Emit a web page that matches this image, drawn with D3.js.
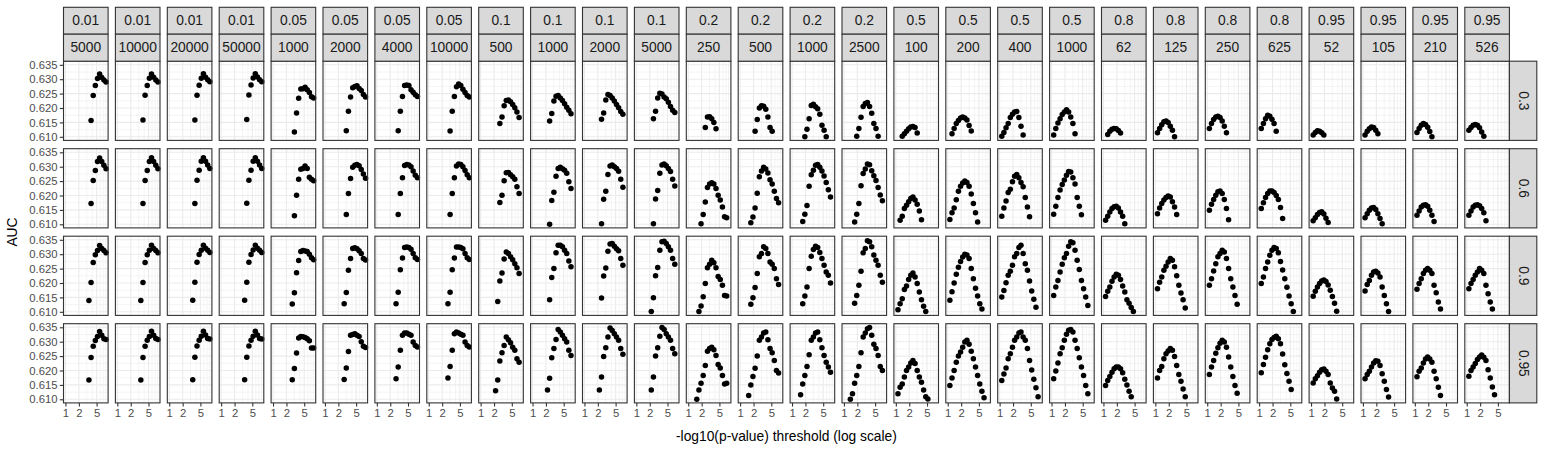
<!DOCTYPE html>
<html><head><meta charset="utf-8">
<script src="https://cdn.jsdelivr.net/npm/d3@7"></script>
<style>body{margin:0;background:#fff}svg{display:block}text{font-family:"Liberation Sans",Arial,Helvetica,sans-serif}</style>
</head><body><svg id="chart" width="1544" height="449"></svg>
<script>
// ---- data ----
const thresholds = [1.000,1.117,1.247,1.392,1.555,1.736,1.938,2.164,2.417,2.698,3.013,3.365,3.757,4.195,4.684,5.230,5.840,6.521,7.282,8.131];
const colFraction = ["0.01","0.01","0.01","0.01","0.05","0.05","0.05","0.05","0.1","0.1","0.1","0.1","0.2","0.2","0.2","0.2","0.5","0.5","0.5","0.5","0.8","0.8","0.8","0.8","0.95","0.95","0.95","0.95"];
const colSize = ["5000","10000","20000","50000","1000","2000","4000","10000","500","1000","2000","5000","250","500","1000","2500","100","200","400","1000","62","125","250","625","52","105","210","526"];
const rowLabels = ["0.3","0.6","0.9","0.95"];
const yTicks = [0.610,0.615,0.620,0.625,0.630,0.635];
const yMinor = [0.6125,0.6175,0.6225,0.6275,0.6325];
const xTicks = [1,2,5];
const xMinor = [3,4,6,7,8,9];
// each entry: [first threshold index, AUC values...]
const aucRow03 = [
[12,.6157,.6243,.6278,.6302,.6318,.6306,.6297,.6290],
[12,.6158,.6244,.6278,.6303,.6318,.6307,.6297,.6290],
[12,.6158,.6244,.6279,.6303,.6319,.6307,.6298,.6291],
[12,.6160,.6245,.6280,.6304,.6319,.6308,.6298,.6291],
[10,.6117,.6183,.6234,.6266,.6267,.6272,.6263,.6254,.6239,.6235],
[10,.6121,.6189,.6238,.6270,.6275,.6277,.6268,.6261,.6247,.6238],
[10,.6121,.6189,.6240,.6278,.6280,.6278,.6263,.6255,.6246,.6240],
[10,.6120,.6189,.6240,.6274,.6283,.6278,.6265,.6254,.6243,.6238],
[9,.6146,.6169,.6208,.6226,.6228,.6222,.6212,.6201,.6186,.6167],
[8,.6155,.6181,.6224,.6241,.6243,.6235,.6226,.6215,.6203,.6192,.6180],
[8,.6161,.6183,.6228,.6247,.6243,.6235,.6224,.6212,.6201,.6188,.6178],
[8,.6163,.6189,.6235,.6251,.6249,.6238,.6232,.6220,.6205,.6192,.6184],
[8,.6132,.6169,.6170,.6163,.6150,.6128],
[7,.6119,.6160,.6200,.6208,.6206,.6196,.6169,.6132,.6119],
[6,.6100,.6126,.6163,.6209,.6213,.6204,.6197,.6178,.6140,.6123,.6100],
[6,.6102,.6129,.6168,.6205,.6216,.6219,.6205,.6182,.6146,.6129,.6102],
[3,.6102,.6111,.6119,.6128,.6134,.6136,.6132,.6113],
[2,.6111,.6129,.6146,.6157,.6165,.6169,.6165,.6158,.6139,.6120],
[1,.6102,.6115,.6131,.6146,.6167,.6178,.6186,.6188,.6167,.6137,.6106],
[1,.6106,.6129,.6148,.6163,.6177,.6186,.6194,.6186,.6169,.6146,.6111],
[2,.6108,.6119,.6126,.6129,.6128,.6122,.6113],
[1,.6114,.6129,.6142,.6152,.6155,.6150,.6137,.6123,.6100],
[1,.6129,.6146,.6160,.6169,.6171,.6167,.6155,.6137,.6114],
[1,.6129,.6146,.6163,.6175,.6171,.6161,.6146,.6119],
[1,.6106,.6115,.6121,.6119,.6114,.6106],
[1,.6106,.6119,.6128,.6134,.6132,.6123,.6111],
[1,.6115,.6129,.6140,.6146,.6143,.6133,.6118,.6100],
[1,.6123,.6132,.6140,.6143,.6140,.6131,.6117,.6102]];
const aucRow06 = [
[12,.6172,.6252,.6287,.6318,.6330,.6318,.6305,.6293],
[12,.6172,.6252,.6287,.6318,.6331,.6318,.6305,.6293],
[12,.6172,.6253,.6288,.6319,.6331,.6319,.6306,.6294],
[12,.6173,.6253,.6288,.6319,.6331,.6319,.6306,.6294],
[10,.6130,.6201,.6256,.6291,.6294,.6302,.6294,.6263,.6256,.6251],
[10,.6134,.6207,.6259,.6298,.6305,.6308,.6303,.6290,.6275,.6260],
[10,.6134,.6207,.6262,.6304,.6308,.6306,.6300,.6285,.6270,.6262],
[10,.6134,.6207,.6262,.6302,.6309,.6308,.6300,.6287,.6272,.6262],
[9,.6176,.6201,.6251,.6279,.6280,.6272,.6265,.6256,.6230,.6207],
[8,.6100,.6183,.6211,.6267,.6294,.6298,.6293,.6288,.6277,.6248,.6224],
[8,.6102,.6187,.6215,.6273,.6302,.6306,.6300,.6294,.6284,.6256,.6229],
[8,.6102,.6188,.6217,.6277,.6306,.6309,.6303,.6294,.6283,.6256,.6233],
[6,.6102,.6134,.6177,.6228,.6240,.6244,.6240,.6224,.6201,.6184,.6160,.6126,.6123],
[5,.6105,.6125,.6157,.6208,.6265,.6285,.6298,.6292,.6278,.6255,.6240,.6215,.6190,.6175],
[5,.6110,.6135,.6165,.6232,.6272,.6288,.6305,.6308,.6298,.6285,.6268,.6245,.6220,.6195],
[5,.6108,.6135,.6172,.6234,.6276,.6292,.6309,.6307,.6286,.6269,.6252,.6228,.6202,.6182],
[2,.6114,.6128,.6155,.6166,.6178,.6190,.6195,.6184,.6170,.6146,.6116],
[1,.6117,.6140,.6157,.6185,.6215,.6232,.6243,.6250,.6245,.6232,.6205,.6172,.6140,.6108],
[1,.6128,.6157,.6181,.6210,.6222,.6248,.6267,.6273,.6262,.6245,.6230,.6193,.6160,.6126],
[1,.6135,.6163,.6193,.6219,.6238,.6254,.6270,.6283,.6282,.6262,.6240,.6193,.6163,.6133],
[1,.6114,.6128,.6143,.6155,.6161,.6163,.6157,.6143,.6128,.6102],
[1,.6137,.6157,.6172,.6184,.6193,.6198,.6195,.6178,.6160,.6134],
[1,.6149,.6170,.6186,.6201,.6213,.6216,.6207,.6186,.6155,.6116],
[1,.6155,.6175,.6193,.6207,.6216,.6216,.6210,.6200,.6186,.6158,.6120],
[1,.6112,.6123,.6134,.6141,.6144,.6136,.6121,.6106],
[1,.6123,.6137,.6149,.6157,.6158,.6151,.6137,.6120,.6102],
[1,.6131,.6146,.6160,.6166,.6168,.6163,.6149,.6131,.6110],
[1,.6131,.6146,.6160,.6166,.6168,.6164,.6155,.6140,.6112]];
const aucRow09 = [
[11,.6139,.6202,.6271,.6298,.6313,.6330,.6320,.6313,.6305],
[11,.6139,.6202,.6271,.6298,.6314,.6331,.6320,.6313,.6305],
[11,.6140,.6203,.6272,.6299,.6314,.6331,.6321,.6314,.6306],
[11,.6140,.6203,.6272,.6299,.6315,.6331,.6321,.6314,.6306],
[9,.6127,.6166,.6236,.6278,.6309,.6313,.6311,.6309,.6300,.6288,.6281],
[9,.6128,.6167,.6244,.6285,.6320,.6322,.6319,.6312,.6302,.6285,.6280],
[9,.6128,.6168,.6246,.6287,.6323,.6325,.6323,.6317,.6302,.6288,.6282],
[9,.6128,.6168,.6246,.6287,.6325,.6325,.6323,.6319,.6302,.6288,.6282],
[8,.6136,.6207,.6235,.6283,.6308,.6302,.6291,.6281,.6267,.6253,.6233],
[8,.6142,.6219,.6250,.6305,.6331,.6331,.6326,.6314,.6302,.6276,.6256],
[8,.6148,.6224,.6252,.6310,.6335,.6337,.6328,.6319,.6312,.6285,.6262],
[7,.6101,.6149,.6225,.6254,.6314,.6343,.6345,.6337,.6326,.6314,.6285,.6265],
[5,.6101,.6120,.6152,.6198,.6253,.6265,.6279,.6270,.6253,.6223,.6212,.6192,.6157,.6155],
[5,.6126,.6149,.6184,.6233,.6291,.6302,.6326,.6320,.6302,.6273,.6265,.6250,.6215,.6195],
[5,.6128,.6155,.6186,.6250,.6293,.6316,.6328,.6323,.6306,.6285,.6262,.6238,.6227,.6200],
[5,.6130,.6157,.6192,.6241,.6305,.6320,.6347,.6343,.6326,.6297,.6279,.6262,.6227,.6203],
[1,.6107,.6128,.6145,.6177,.6190,.6212,.6227,.6235,.6221,.6198,.6169,.6142,.6119,.6101],
[1,.6140,.6170,.6200,.6230,.6255,.6275,.6290,.6300,.6297,.6285,.6250,.6215,.6182,.6155,.6128,.6110],
[1,.6151,.6174,.6201,.6227,.6241,.6262,.6291,.6302,.6323,.6331,.6302,.6267,.6244,.6207,.6172,.6144,.6116],
[1,.6157,.6186,.6209,.6238,.6265,.6288,.6302,.6328,.6343,.6340,.6314,.6279,.6247,.6209,.6180,.6151,.6122],
[1,.6153,.6171,.6186,.6206,.6221,.6230,.6227,.6212,.6190,.6169,.6142,.6130,.6115,.6101],
[1,.6180,.6203,.6221,.6244,.6258,.6273,.6285,.6279,.6256,.6225,.6192,.6165,.6142,.6113],
[1,.6192,.6215,.6242,.6267,.6291,.6302,.6314,.6308,.6285,.6250,.6215,.6186,.6157,.6126],
[1,.6198,.6221,.6250,.6273,.6296,.6314,.6323,.6320,.6305,.6275,.6245,.6215,.6185,.6155,.6128,.6101],
[1,.6154,.6171,.6186,.6198,.6207,.6210,.6205,.6193,.6175,.6153,.6130,.6102],
[1,.6172,.6195,.6209,.6227,.6238,.6241,.6235,.6221,.6186,.6157,.6128,.6101],
[1,.6178,.6198,.6215,.6233,.6244,.6250,.6244,.6233,.6192,.6166,.6134,.6110],
[1,.6180,.6198,.6212,.6227,.6238,.6250,.6244,.6233,.6192,.6163,.6134,.6110]];
const aucRow095 = [
[11,.6167,.6245,.6284,.6304,.6318,.6335,.6322,.6310,.6308],
[11,.6167,.6245,.6284,.6305,.6318,.6336,.6322,.6311,.6308],
[11,.6168,.6246,.6285,.6305,.6319,.6336,.6323,.6311,.6309],
[11,.6168,.6246,.6285,.6305,.6319,.6336,.6323,.6311,.6309],
[9,.6168,.6207,.6261,.6313,.6318,.6317,.6315,.6310,.6303,.6278,.6278],
[9,.6169,.6209,.6266,.6322,.6325,.6328,.6322,.6318,.6300,.6284,.6280],
[9,.6171,.6212,.6270,.6322,.6330,.6330,.6326,.6322,.6299,.6287,.6282],
[9,.6174,.6214,.6270,.6328,.6334,.6330,.6326,.6322,.6299,.6287,.6282],
[7,.6130,.6167,.6233,.6262,.6287,.6316,.6307,.6296,.6281,.6270,.6241,.6229],
[7,.6132,.6173,.6244,.6276,.6308,.6342,.6334,.6322,.6310,.6299,.6270,.6252],
[7,.6132,.6177,.6249,.6279,.6316,.6348,.6339,.6328,.6316,.6305,.6276,.6256],
[7,.6132,.6177,.6250,.6279,.6319,.6349,.6342,.6328,.6316,.6305,.6276,.6258],
[4,.6100,.6132,.6156,.6183,.6217,.6267,.6276,.6281,.6272,.6252,.6221,.6209,.6183,.6153,.6156],
[4,.6113,.6150,.6179,.6208,.6250,.6305,.6316,.6330,.6334,.6307,.6276,.6262,.6235,.6200,.6191],
[4,.6116,.6153,.6183,.6214,.6255,.6305,.6316,.6330,.6334,.6307,.6279,.6252,.6229,.6212,.6194],
[3,.6100,.6119,.6156,.6183,.6214,.6262,.6316,.6330,.6345,.6349,.6322,.6291,.6276,.6252,.6214,.6200],
[1,.6119,.6142,.6153,.6177,.6200,.6212,.6226,.6235,.6224,.6200,.6177,.6159,.6132,.6109,.6101],
[1,.6148,.6174,.6200,.6229,.6250,.6264,.6281,.6299,.6305,.6291,.6267,.6241,.6212,.6183,.6153,.6128,.6105],
[1,.6165,.6188,.6209,.6241,.6258,.6281,.6305,.6316,.6330,.6334,.6316,.6305,.6276,.6235,.6202,.6170,.6140,.6109],
[1,.6171,.6198,.6226,.6258,.6279,.6305,.6326,.6340,.6342,.6334,.6305,.6276,.6244,.6212,.6183,.6148,.6119],
[1,.6148,.6165,.6179,.6194,.6206,.6212,.6212,.6206,.6192,.6170,.6150,.6128,.6109],
[1,.6174,.6200,.6214,.6241,.6258,.6268,.6276,.6270,.6249,.6217,.6186,.6163,.6136,.6109],
[1,.6186,.6212,.6235,.6260,.6279,.6295,.6305,.6299,.6281,.6247,.6212,.6179,.6148,.6121],
[1,.6192,.6221,.6246,.6272,.6293,.6308,.6315,.6319,.6310,.6293,.6257,.6220,.6190,.6163,.6134],
[1,.6157,.6171,.6182,.6194,.6203,.6205,.6197,.6186,.6157,.6139,.6128,.6101],
[1,.6171,.6186,.6197,.6212,.6226,.6234,.6232,.6217,.6189,.6163,.6134,.6108],
[1,.6178,.6197,.6209,.6226,.6240,.6247,.6240,.6229,.6197,.6171,.6142,.6113],
[1,.6180,.6200,.6212,.6224,.6238,.6247,.6254,.6246,.6235,.6203,.6174,.6143,.6116]];
const rowsData = [aucRow03, aucRow06, aucRow09, aucRow095];

// ---- layout ----
const svg = d3.select("#chart");
const left0 = 63.5, pitchX = 51.9, pw = 44.6;
const top0 = 61.2, pitchY = 87.5, ph = 79.2;
const strip1Top = 7.3, strip2Top = 34.2;
const stripRightW = 27.4;
const x = d3.scaleLog().domain([0.905, 9.05]).range([0, pw]);
const y = d3.scaleLinear().domain([0.60875, 0.63625]).range([ph, 0]);
const grey20 = "#333333", grid = "#ebebeb";
const nCol = colSize.length, nRow = rowLabels.length;

for (let r = 0; r < nRow; r++) {
  for (let c = 0; c < nCol; c++) {
    const g = svg.append("g").attr("transform", `translate(${left0 + c * pitchX},${top0 + r * pitchY})`);
    g.append("rect").attr("width", pw).attr("height", ph).attr("fill", "#fff");
    g.selectAll(".yminor").data(yMinor).enter().append("line")
      .attr("x1", 0).attr("x2", pw).attr("y1", d => y(d)).attr("y2", d => y(d))
      .attr("stroke", grid).attr("stroke-width", 0.55);
    g.selectAll(".xminor").data(xMinor).enter().append("line")
      .attr("y1", 0).attr("y2", ph).attr("x1", d => x(d)).attr("x2", d => x(d))
      .attr("stroke", grid).attr("stroke-width", 0.55);
    g.selectAll(".ymajor").data(yTicks).enter().append("line")
      .attr("x1", 0).attr("x2", pw).attr("y1", d => y(d)).attr("y2", d => y(d))
      .attr("stroke", grid).attr("stroke-width", 1.1);
    g.selectAll(".xmajor").data(xTicks).enter().append("line")
      .attr("y1", 0).attr("y2", ph).attr("x1", d => x(d)).attr("x2", d => x(d))
      .attr("stroke", grid).attr("stroke-width", 1.1);
    const entry = rowsData[r][c];
    const start = entry[0];
    const pts = entry.slice(1).map((v, i) => ({ t: thresholds[start + i], v }));
    g.selectAll("circle").data(pts).enter().append("circle")
      .attr("cx", d => x(d.t)).attr("cy", d => y(d.v)).attr("r", 2.75).attr("fill", "#000");
    g.append("rect").attr("width", pw).attr("height", ph).attr("fill", "none")
      .attr("stroke", grey20).attr("stroke-width", 1.1);
    if (c === 0) {
      const ax = g.append("g").call(d3.axisLeft(y).tickValues(yTicks).tickFormat(d3.format(".3f")).tickSize(3.7).tickPadding(2.2));
      ax.select(".domain").remove();
      ax.selectAll("line").attr("stroke", grey20).attr("stroke-width", 1.1);
      ax.selectAll("text").attr("fill", "#4d4d4d").style("font-size", "11.3px").style("font-family", '"Liberation Sans",Arial,sans-serif');
    }
    if (r === nRow - 1) {
      const ax = g.append("g").attr("transform", `translate(0,${ph})`)
        .call(d3.axisBottom(x).tickValues(xTicks).tickFormat(d3.format("d")).tickSize(3.7).tickPadding(2.2));
      ax.select(".domain").remove();
      ax.selectAll("line").attr("stroke", grey20).attr("stroke-width", 1.1);
      ax.selectAll("text").attr("fill", "#4d4d4d").style("font-size", "11.3px").style("font-family", '"Liberation Sans",Arial,sans-serif');
    }
  }
}
for (let c = 0; c < nCol; c++) {
  const xl = left0 + c * pitchX;
  [[strip1Top, strip2Top, colFraction[c]], [strip2Top, top0, colSize[c]]].forEach(([t0, t1, lab]) => {
    svg.append("rect").attr("x", xl).attr("y", t0).attr("width", pw).attr("height", t1 - t0)
      .attr("fill", "#d9d9d9").attr("stroke", grey20).attr("stroke-width", 1.1);
    svg.append("text").attr("x", xl + pw / 2).attr("y", (t0 + t1) / 2).attr("text-anchor", "middle")
      .attr("dominant-baseline", "central").attr("fill", "#1a1a1a").style("font-size", "13.8px").text(lab);
  });
}
const rx = left0 + (nCol - 1) * pitchX + pw;
for (let r = 0; r < nRow; r++) {
  const ty = top0 + r * pitchY;
  svg.append("rect").attr("x", rx).attr("y", ty).attr("width", stripRightW).attr("height", ph)
    .attr("fill", "#d9d9d9").attr("stroke", grey20).attr("stroke-width", 1.1);
  svg.append("text").attr("transform", `translate(${rx + stripRightW / 2},${ty + ph / 2}) rotate(90)`)
    .attr("text-anchor", "middle").attr("dominant-baseline", "central").attr("fill", "#1a1a1a")
    .style("font-size", "13.8px").text(rowLabels[r]);
}
const panelsRight = left0 + (nCol - 1) * pitchX + pw;
svg.append("text").attr("x", (left0 + panelsRight) / 2).attr("y", 436).attr("text-anchor", "middle")
  .attr("dominant-baseline", "central").attr("fill", "#000").style("font-size", "13.8px")
  .text("-log10(p-value) threshold (log scale)");
svg.append("text").attr("transform", `translate(12.5,${(top0 + top0 + 3 * pitchY + ph) / 2}) rotate(-90)`)
  .attr("text-anchor", "middle").attr("dominant-baseline", "central").attr("fill", "#000").style("font-size", "13.8px")
  .text("AUC");
</script></body></html>
